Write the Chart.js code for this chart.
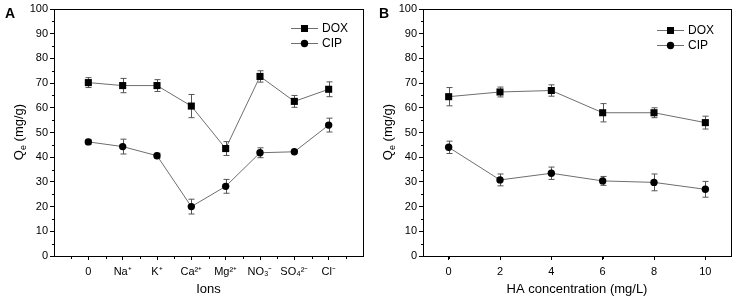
<!DOCTYPE html>
<html>
<head>
<meta charset="utf-8">
<script src="https://cdn.jsdelivr.net/npm/chart.js@4.4.0/dist/chart.umd.min.js"></script>
<style>
  html, body { margin: 0; padding: 0; background: #fff; }
  #wrap { position: relative; width: 737px; height: 299px; }
  canvas { position: absolute; top: 0; }
</style>
</head>
<body>
<div id="wrap">
  <canvas id="chartA" width="370" height="299" style="left:0"></canvas>
  <canvas id="chartB" width="367" height="299" style="left:370px"></canvas>
</div>
<script>
// panel A: ions
const ionLabels = ['0', 'Na⁺', 'K⁺', 'Ca²⁺', 'Mg²⁺', 'NO₃⁻', 'SO₄²⁻', 'Cl⁻'];
const doxIons = [70.2, 69.0, 69.0, 60.7, 43.5, 72.7, 62.6, 67.5];
const doxIonsErr = [2.0, 2.9, 2.4, 4.7, 2.8, 2.3, 2.4, 3.0];
const cipIons = [46.2, 44.3, 40.6, 20.0, 28.2, 41.8, 42.2, 53.0];
const cipIonsErr = [1.0, 3.0, 1.0, 3.0, 2.8, 2.0, 0.5, 2.8];

// panel B: HA concentration
const haConc = [0, 2, 4, 6, 8, 10];
const doxHA = [64.5, 66.4, 67.0, 58.0, 58.0, 54.0];
const doxHAErr = [3.7, 2.0, 2.3, 3.7, 2.0, 2.6];
const cipHA = [44.0, 30.8, 33.5, 30.4, 29.8, 27.0];
const cipHAErr = [2.5, 2.4, 2.5, 1.8, 3.4, 3.2];

const yTicks = [0, 10, 20, 30, 40, 50, 60, 70, 80, 90, 100];

const FONT = '"Liberation Sans", Arial, sans-serif';
const LINE = '#6e6e6e';

function pts(xs, ys) {
    return xs.map((x, i) => ({x: x, y: ys[i]}));
}

// error bars, frame, minor ticks, legend, titles
const decoPlugin = {
    id: 'deco',
    beforeDatasetsDraw(chart) {
        const ctx = chart.ctx;
        const xs = chart.scales.x, ys = chart.scales.y;
        ctx.save();
        ctx.strokeStyle = '#555';
        ctx.lineWidth = 1;
        chart.data.datasets.forEach(ds => {
            ds.data.forEach((p, i) => {
                const e = ds.errors[i];
                const px = Math.round(xs.getPixelForValue(p.x)) + 0.5;
                const y1 = ys.getPixelForValue(p.y + e);
                const y2 = ys.getPixelForValue(p.y - e);
                ctx.beginPath();
                ctx.moveTo(px, y1); ctx.lineTo(px, y2);
                ctx.moveTo(px - 3, y1); ctx.lineTo(px + 3, y1);
                ctx.moveTo(px - 3, y2); ctx.lineTo(px + 3, y2);
                ctx.stroke();
            });
        });
        ctx.restore();
    },
    afterDraw(chart, args, opts) {
        const ctx = chart.ctx;
        const a = chart.chartArea;
        const xs = chart.scales.x, ys = chart.scales.y;
        ctx.save();
        ctx.strokeStyle = '#000';
        ctx.lineWidth = 1;
        ctx.strokeRect(Math.round(a.left) + 0.5, Math.round(a.top) + 0.5,
            Math.round(a.right - a.left), Math.round(a.bottom - a.top));
        // minor ticks
        ctx.beginPath();
        for (let v = 5; v < 100; v += 10) {
            const py = Math.round(ys.getPixelForValue(v)) + 0.5;
            ctx.moveTo(a.left, py); ctx.lineTo(a.left - 2, py);
        }
        for (let v = xs.min + opts.minorStep; v < xs.max; v += 2 * opts.minorStep) {
            const px = Math.round(xs.getPixelForValue(v)) + 0.5;
            ctx.moveTo(px, a.bottom); ctx.lineTo(px, a.bottom + 3);
        }
        ctx.stroke();

        // legend
        ctx.font = '12px ' + FONT;
        ctx.textBaseline = 'middle';
        chart.data.datasets.forEach((ds, i) => {
            const ly = opts.legendY[i];
            const lx = opts.legendX;
            ctx.strokeStyle = LINE;
            ctx.beginPath();
            ctx.moveTo(lx, ly + 0.5); ctx.lineTo(lx + 27, ly + 0.5);
            ctx.stroke();
            ctx.fillStyle = '#000';
            if (ds.pointStyle === 'rect') {
                ctx.fillRect(lx + 10, ly - 3, 7, 7);
            } else {
                ctx.beginPath();
                ctx.arc(lx + 13.5, ly + 0.5, 3.7, 0, Math.PI * 2);
                ctx.fill();
            }
            ctx.fillText(ds.label, lx + 31, ly + 1);
        });

        // y title with subscript
        ctx.translate(opts.yTitleX, 132);
        ctx.rotate(-Math.PI / 2);
        ctx.fillStyle = '#000';
        ctx.textBaseline = 'alphabetic';
        const big = '13px ' + FONT, small = '9px ' + FONT;
        ctx.font = big;
        const wQ = ctx.measureText('Q').width;
        const rest = ' (mg/g)';
        const wR = ctx.measureText(rest).width;
        ctx.font = small;
        const wE = ctx.measureText('e').width;
        let x0 = -(wQ + wE + wR) / 2;
        ctx.font = big;
        ctx.fillText('Q', x0, 4.5);
        ctx.font = small;
        ctx.fillText('e', x0 + wQ, 7.5);
        ctx.font = big;
        ctx.fillText(rest, x0 + wQ + wE, 4.5);
        ctx.setTransform(1, 0, 0, 1, 0, 0);

        // panel letter
        ctx.font = 'bold 14px ' + FONT;
        ctx.fillText(opts.letter, opts.letterX, 18);
        ctx.restore();
    }
};

function makeChart(canvas, cfg) {
    return new Chart(canvas, {
        type: 'scatter',
        data: {
            datasets: [{
                label: 'DOX',
                data: pts(cfg.xVals, cfg.dox),
                errors: cfg.doxErr,
                showLine: true,
                borderColor: LINE,
                borderWidth: 1,
                pointStyle: 'rect',
                pointRadius: 5,
                pointBackgroundColor: '#000',
                pointBorderColor: '#000',
                pointBorderWidth: 0
            }, {
                label: 'CIP',
                data: pts(cfg.xVals, cfg.cip),
                errors: cfg.cipErr,
                showLine: true,
                borderColor: LINE,
                borderWidth: 1,
                pointStyle: 'circle',
                pointRadius: 3.7,
                pointBackgroundColor: '#000',
                pointBorderColor: '#000',
                pointBorderWidth: 0
            }]
        },
        options: {
            responsive: false,
            animation: false,
            layout: {padding: {top: 9, right: cfg.padRight, left: 0, bottom: 0}},
            plugins: {
                legend: {display: false},
                tooltip: {enabled: false},
                deco: cfg.deco
            },
            scales: {
                x: {
                    type: 'linear',
                    min: cfg.xMin,
                    max: cfg.xMax,
                    afterFit: s => { s.height = 43; },
                    afterBuildTicks: s => { s.ticks = cfg.xTicks.map(v => ({value: v})); },
                    grid: {drawOnChartArea: false, tickLength: 4, color: '#000'},
                    border: {color: '#000'},
                    ticks: {
                        autoSkip: false,
                        maxRotation: 0,
                        padding: 5,
                        color: '#000',
                        font: {family: FONT, size: 11},
                        callback: cfg.xLabel
                    },
                    title: {
                        display: true,
                        text: cfg.xTitle,
                        color: '#000',
                        font: {family: FONT, size: 13},
                        padding: {top: 2, bottom: 2}
                    }
                },
                y: {
                    min: 0,
                    max: 100,
                    afterFit: s => { s.width = cfg.yWidth; },
                    afterBuildTicks: s => { s.ticks = yTicks.map(v => ({value: v})); },
                    grid: {drawOnChartArea: false, tickLength: 4, color: '#000'},
                    border: {color: '#000'},
                    ticks: {
                        padding: 2,
                        color: '#000',
                        font: {family: FONT, size: 11}
                    }
                }
            }
        },
        plugins: [decoPlugin]
    });
}

makeChart(document.getElementById('chartA'), {
    xVals: ionLabels.map((l, i) => i),
    dox: doxIons, doxErr: doxIonsErr,
    cip: cipIons, cipErr: cipIonsErr,
    xMin: -1, xMax: 8,
    xTicks: ionLabels.map((l, i) => i),
    xLabel: v => ionLabels[v],
    xTitle: 'Ions',
    yWidth: 54,
    padRight: 7,
    deco: {minorStep: 0.5, legendX: 291, legendY: [28, 43], yTitleX: 18, letter: 'A', letterX: 5}
});

makeChart(document.getElementById('chartB'), {
    xVals: haConc,
    dox: doxHA, doxErr: doxHAErr,
    cip: cipHA, cipErr: cipHAErr,
    xMin: -1, xMax: 11,
    xTicks: haConc,
    xLabel: v => String(v),
    xTitle: 'HA concentration (mg/L)',
    yWidth: 53,
    padRight: 6,
    deco: {minorStep: 1, legendX: 287, legendY: [30, 45], yTitleX: 17, letter: 'B', letterX: 9}
});
</script>
</body>
</html>
